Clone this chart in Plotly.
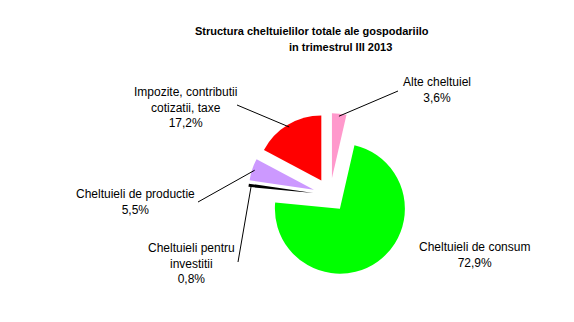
import math
import plotly.graph_objects as go

# ---- data ----
labels = ["Alte cheltuiel", "Cheltuieli de consum", "Cheltuieli pentru investitii",
          "Cheltuieli de productie", "Impozite, contributii cotizatii, taxe"]
label_text = ["Alte cheltuiel<br>3,6%", "Cheltuieli de consum<br>72,9%",
              "Cheltuieli pentru<br>investitii<br>0,8%", "Cheltuieli de productie<br>5,5%",
              "Impozite, contributii<br>cotizatii, taxe<br>17,2%"]
values = [3.6, 72.9, 0.8, 5.5, 17.2]
colors = ["#FF99CC", "#00FF00", "#000000", "#CC99FF", "#FF0000"]
title_lines = ["Structura cheltuielilor totale ale gospodariilo", "in trimestrul III 2013"]

# ---- layout geometry (pixels) ----
W, H = 574, 322
CX, CY, R = 330, 195, 65
PULL = 0.26
half = R * (1 + PULL)
dom_x = [(CX - half) / W, (CX + half) / W]
dom_y = [(H - CY - half) / H, (H - CY + half) / H]

def px(x, y):
    return x / W, 1 - y / H

fig = go.Figure(go.Pie(
    labels=labels, values=values, sort=False, direction="clockwise", rotation=0,
    marker=dict(colors=colors, line=dict(width=0)),
    pull=[PULL] * len(values), textinfo="none", hoverinfo="label+percent",
    domain=dict(x=dom_x, y=dom_y), showlegend=False,
))

# label positions (block centres) and leader-line outer ends, in pixels
label_pos = [(437, 90), (474, 255), (191, 263), (135, 202), (185, 107.5)]
leader_start = [(398, 91), None, (238, 262), (198, 202), (237, 105)]

total = sum(values)
cum = 0.0
shapes = []
for i, v in enumerate(values):
    mid = (cum + v / 2) / total * 2 * math.pi
    cum += v
    dx, dy = math.sin(mid), -math.cos(mid)
    pcx, pcy = CX + PULL * R * dx, CY + PULL * R * dy
    ex, ey = pcx + 0.96 * R * dx, pcy + 0.96 * R * dy
    if leader_start[i] is not None:
        sx, sy = leader_start[i]
        x0, y0 = px(sx, sy)
        x1, y1 = px(ex, ey)
        shapes.append(dict(type="line", xref="paper", yref="paper", x0=x0, y0=y0, x1=x1, y1=y1,
                           line=dict(color="black", width=1)))

annotations = []
font_lbl = dict(family="Liberation Sans, Arial", size=12, color="black")
for t, (lx, ly) in zip(label_text, label_pos):
    x, y = px(lx, ly)
    annotations.append(dict(text=t, x=x, y=y, xref="paper", yref="paper", showarrow=False,
                            xanchor="center", yanchor="middle", align="center", font=font_lbl))

font_title = dict(family="Liberation Sans, Arial", size=11, color="black", weight="bold")
for t, (tx, ty) in zip(title_lines, [(311.5, 31), (340, 47)]):
    x, y = px(tx, ty)
    annotations.append(dict(text="<b>" + t + "</b>", x=x, y=y, xref="paper", yref="paper",
                            showarrow=False, xanchor="center", yanchor="middle", font=font_title))

fig.update_layout(width=W, height=H, margin=dict(l=0, r=0, t=0, b=0),
                  paper_bgcolor="white", plot_bgcolor="white",
                  shapes=shapes, annotations=annotations)
fig.write_html("out.html")
